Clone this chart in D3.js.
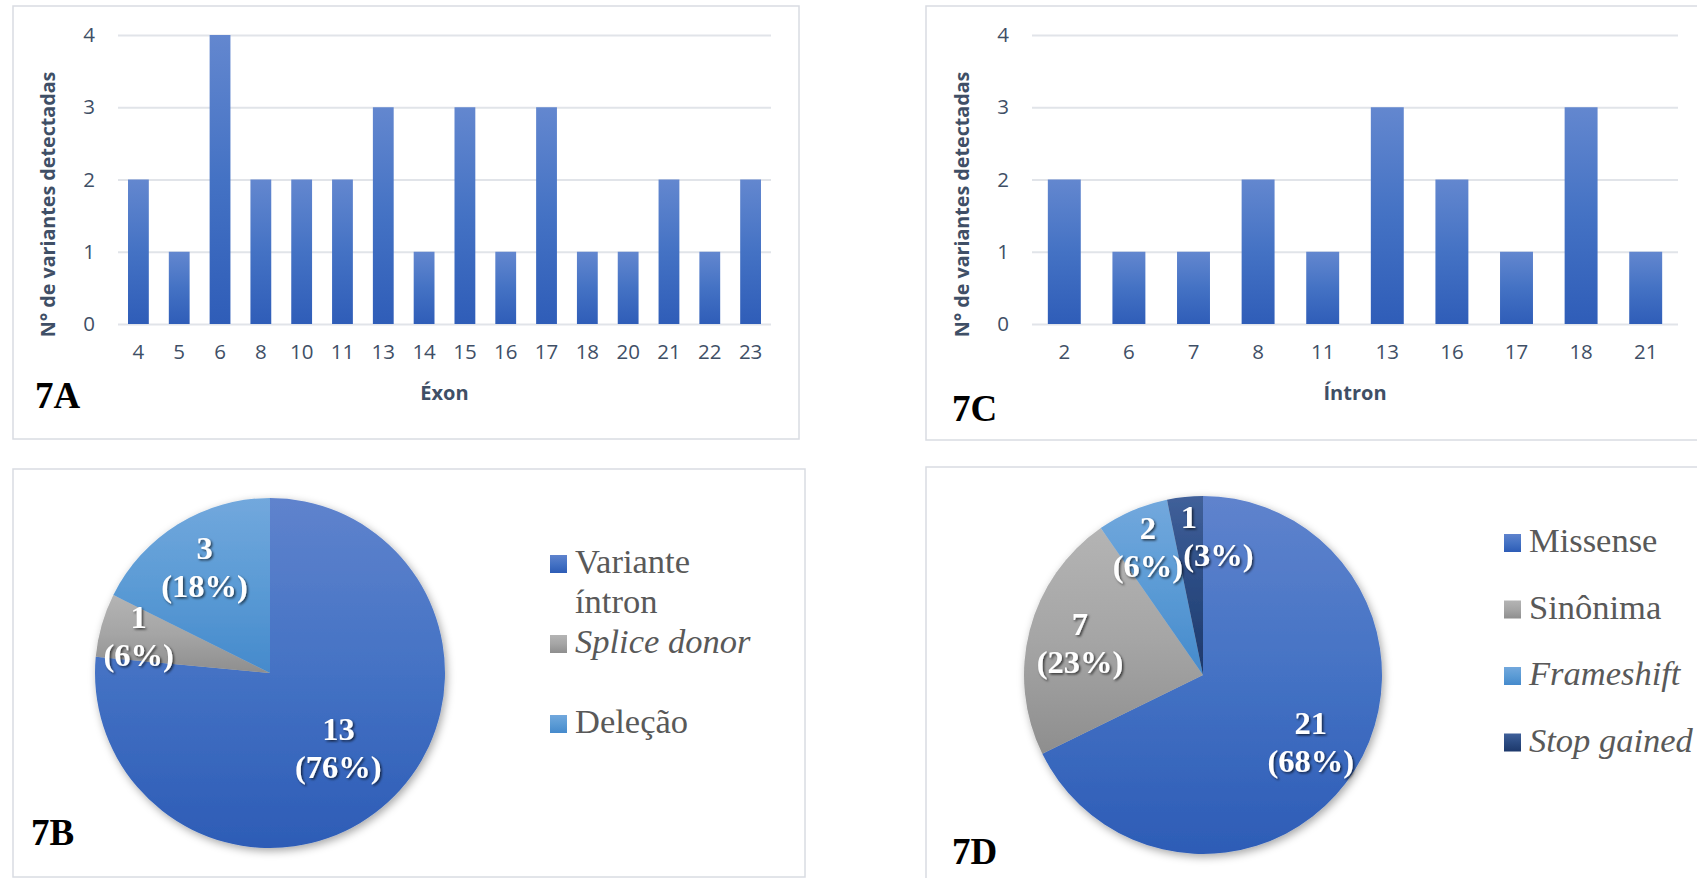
<!DOCTYPE html>
<html>
<head>
<meta charset="utf-8">
<script src="https://cdn.jsdelivr.net/npm/d3@7"></script>
<style>
  body { margin: 0; background: #fff; }
  svg { display: block; }
</style>
</head>
<body>
<svg id="chart" width="1697" height="878"></svg>
<script>
// data
const exons = ['4', '5', '6', '8', '10', '11', '13', '14', '15', '16', '17', '18', '20', '21', '22', '23'];
const exonCounts = [2, 1, 4, 2, 2, 2, 3, 1, 3, 1, 3, 1, 1, 2, 1, 2];
const introns = ['2', '6', '7', '8', '11', '13', '16', '17', '18', '21'];
const intronCounts = [2, 1, 1, 2, 1, 3, 2, 1, 3, 1];
const yTicks = [0, 1, 2, 3, 4];
const intronTypes = ['Variante íntron', 'Splice donor', 'Deleção'];
const intronTypeCounts = [13, 1, 3];
const exonTypes = ['Missense', 'Sinônima', 'Frameshift', 'Stop gained'];
const exonTypeCounts = [21, 7, 2, 1];

const italicTerms = ['Splice donor', 'Frameshift', 'Stop gained'];
const sans = "'Open Sans', 'Noto Sans', sans-serif";
const serif = "'Liberation Serif', 'Times New Roman', serif";
const axisGrey = '#3f4f66';

const svg = d3.select('#chart');
const defs = svg.append('defs');

const addGradient = (id, stops) => {
  const g = defs.append('linearGradient')
    .attr('id', id)
    .attr('x1', 0).attr('y1', 0)
    .attr('x2', 0).attr('y2', 1);
  stops.forEach(([o, c]) => g.append('stop').attr('offset', o).attr('stop-color', c));
};

addGradient('barGrad', [[0, '#6387cf'], [0.5, '#4472c4'], [1, '#2f5db8']]);
addGradient('blueGrad', [[0, '#5f83cd'], [0.5, '#4472c4'], [1, '#2d5cb6']]);
addGradient('greyGrad', [[0, '#b4b4b4'], [0.5, '#a5a5a5'], [1, '#8e8e8e']]);
addGradient('lightGrad', [[0, '#72a8dd'], [0.5, '#5b9bd5'], [1, '#458acc']]);
addGradient('darkGrad', [[0, '#40609a'], [0.5, '#2b4b82'], [1, '#1d386b']]);

// soft shadow under the pies
const pieShadow = defs.append('filter').attr('id', 'pieShadow')
  .attr('x', '-20%').attr('y', '-20%').attr('width', '140%').attr('height', '140%');
pieShadow.append('feDropShadow')
  .attr('dx', 2).attr('dy', 3).attr('stdDeviation', 4)
  .attr('flood-color', '#000').attr('flood-opacity', 0.35);

const textShadow = defs.append('filter').attr('id', 'textShadow')
  .attr('x', '-20%').attr('y', '-20%').attr('width', '140%').attr('height', '140%');
textShadow.append('feDropShadow')
  .attr('dx', 1.5).attr('dy', 1.5).attr('stdDeviation', 1)
  .attr('flood-color', '#000').attr('flood-opacity', 0.65);

const panelBox = (x0, y0, x1, y1) => {
  svg.append('rect')
    .attr('x', x0).attr('y', y0)
    .attr('width', x1 - x0).attr('height', y1 - y0)
    .attr('fill', '#fff')
    .attr('stroke', '#d9dce2')
    .attr('stroke-width', 1.5);
};

const panelTag = (text, x, y) => {
  svg.append('text')
    .attr('x', x).attr('y', y)
    .attr('font-family', serif)
    .attr('font-weight', 'bold')
    .attr('font-size', 37)
    .attr('fill', '#000')
    .text(text);
};

const drawBars = (cats, vals, plot, axisTitle) => {
  const x = d3.scaleBand()
    .domain(cats)
    .range([plot.x0, plot.x1])
    .paddingInner(0.49)
    .paddingOuter(0.245);
  const y = d3.scaleLinear()
    .domain([0, 4])
    .range([plot.y0, plot.y1]);

  const g = svg.append('g');

  // gridlines + value labels
  const yAxis = d3.axisLeft(y)
    .tickValues(yTicks)
    .tickSize(-(plot.x1 - plot.x0))
    .tickPadding(23)
    .tickFormat(d3.format('d'));
  const ya = g.append('g')
    .attr('transform', `translate(${plot.x0},0)`)
    .call(yAxis);
  ya.select('.domain').remove();
  ya.selectAll('.tick line').attr('stroke', '#e1e4e9').attr('stroke-width', 2);
  ya.selectAll('.tick text')
    .attr('font-family', sans)
    .attr('font-size', 20.5)
    .attr('fill', axisGrey);

  g.selectAll('rect.bar')
    .data(vals)
    .join('rect')
    .attr('class', 'bar')
    .attr('x', (d, i) => x(cats[i]))
    .attr('y', d => y(d))
    .attr('width', x.bandwidth())
    .attr('height', d => y(0) - y(d))
    .attr('fill', 'url(#barGrad)');

  const xAxis = d3.axisBottom(x).tickSize(0).tickPadding(20);
  const xa = g.append('g')
    .attr('transform', `translate(0,${plot.y0})`)
    .call(xAxis);
  xa.select('.domain').remove();
  xa.selectAll('.tick text')
    .attr('font-family', sans)
    .attr('font-size', 20.5)
    .attr('fill', axisGrey);

  g.append('text')
    .attr('x', (plot.x0 + plot.x1) / 2)
    .attr('y', plot.y0 + 76)
    .attr('text-anchor', 'middle')
    .attr('font-family', sans)
    .attr('font-weight', 'bold')
    .attr('font-size', 20)
    .attr('fill', axisGrey)
    .text(axisTitle);

  g.append('text')
    .attr('transform', `translate(${plot.x0 - 71},${(plot.y0 + plot.y1) / 2 + 25}) rotate(-90)`)
    .attr('text-anchor', 'middle')
    .attr('dominant-baseline', 'central')
    .attr('font-family', sans)
    .attr('font-weight', 'bold')
    .attr('font-size', 19.7)
    .attr('fill', axisGrey)
    .text('N° de variantes detectadas');
};

const overlaps = (a, b) =>
  a.x < b.x + b.width && b.x < a.x + a.width && a.y < b.y + b.height && b.y < a.y + a.height;

const drawPie = (names, counts, fills, center, r, legend) => {
  const total = d3.sum(counts);
  const pie = d3.pie().sort(null).value(d => d);
  const arcs = pie(counts);
  const arc = d3.arc().innerRadius(0).outerRadius(r);

  const g = svg.append('g').attr('transform', `translate(${center[0]},${center[1]})`);

  g.append('g')
    .attr('filter', 'url(#pieShadow)')
    .selectAll('path')
    .data(arcs)
    .join('path')
    .attr('d', arc)
    .attr('fill', (d, i) => `url(#${fills[i]})`);

  // data labels, each line pushed right if it hits a line already placed
  const placed = [];
  arcs.forEach((a, i) => {
    const share = counts[i] / total;
    const k = share > 0.72 ? 0.58 : share < 0.1 ? 0.78 : 0.71;
    const [lx, ly] = d3.arc().innerRadius(r * k).outerRadius(r * k).centroid(a);
    const lines = [String(counts[i]), `(${Math.round(share * 100)}%)`];
    lines.forEach((txt, j) => {
      const t = g.append('text')
        .attr('x', lx)
        .attr('y', ly - 8 + j * 38)
        .attr('text-anchor', 'middle')
        .attr('font-family', serif)
        .attr('font-weight', 'bold')
        .attr('font-size', 32.5)
        .attr('fill', '#fff')
        .attr('filter', 'url(#textShadow)')
        .text(txt);
      let box = t.node().getBBox();
      placed.forEach(p => {
        if (overlaps(box, p)) {
          t.attr('x', +t.attr('x') + (p.x + p.width - box.x));
          box = t.node().getBBox();
        }
      });
      placed.push(box);
    });
  });

  // legend
  const lg = svg.append('g');
  names.forEach((name, i) => {
    const row = legend.y + i * legend.step;
    lg.append('rect')
      .attr('x', legend.x)
      .attr('y', row - 18)
      .attr('width', 17)
      .attr('height', 18)
      .attr('fill', `url(#${fills[i]})`);
    const t = lg.append('text')
      .attr('font-family', serif)
      .attr('font-size', 34.5)
      .attr('font-style', italicTerms.includes(name) ? 'italic' : 'normal')
      .attr('fill', '#595959');
    // wrap long entries onto a second line
    let line = [];
    let lineY = row;
    let ts = t.append('tspan').attr('x', legend.x + 25).attr('y', lineY);
    name.split(' ').forEach(w => {
      line.push(w);
      ts.text(line.join(' '));
      if (ts.node().getComputedTextLength() > legend.maxWidth && line.length > 1) {
        line.pop();
        ts.text(line.join(' '));
        line = [w];
        lineY += 40;
        ts = t.append('tspan').attr('x', legend.x + 25).attr('y', lineY).text(w);
      }
    });
  });
};

// 7A
panelBox(13, 6, 799, 439);
drawBars(exons, exonCounts, { x0: 118, x1: 771, y0: 324, y1: 35 }, 'Éxon');
panelTag('7A', 35, 408);

// 7C
panelBox(926, 6, 1710, 440);
drawBars(introns, intronCounts, { x0: 1032, x1: 1678, y0: 324, y1: 35 }, 'Íntron');
panelTag('7C', 952, 421);

// 7B
panelBox(13, 469, 805, 877);
drawPie(intronTypes, intronTypeCounts, ['blueGrad', 'greyGrad', 'lightGrad'],
  [270, 673], 175, { x: 550, y: 573, step: 80, maxWidth: 205 });
panelTag('7B', 31, 845);

// 7D
panelBox(926, 467, 1710, 890);
drawPie(exonTypes, exonTypeCounts, ['blueGrad', 'greyGrad', 'lightGrad', 'darkGrad'],
  [1203, 675], 179, { x: 1504, y: 552, step: 66.5, maxWidth: 300 });
panelTag('7D', 952, 864);
</script>
</body>
</html>
